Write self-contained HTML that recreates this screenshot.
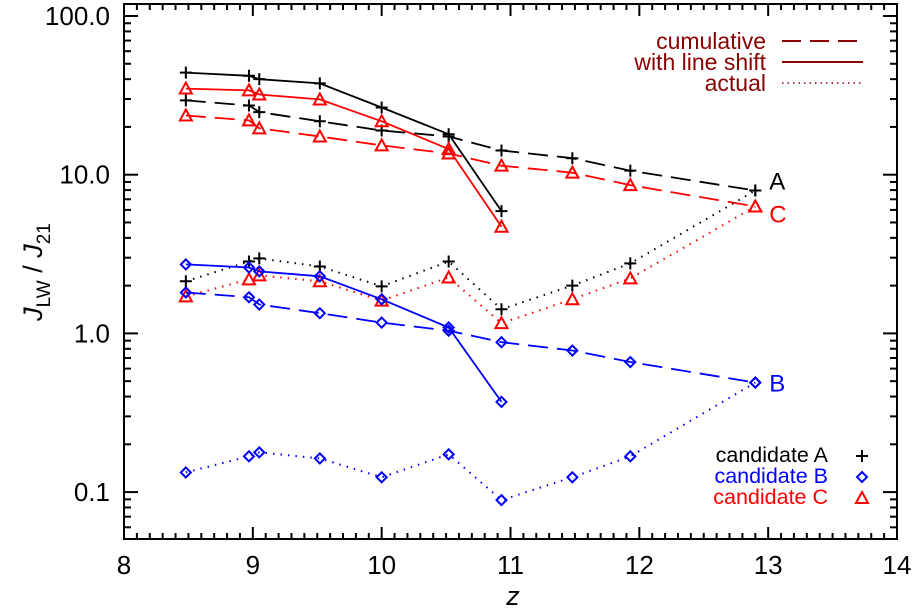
<!DOCTYPE html>
<html><head><meta charset="utf-8"><style>
html,body{margin:0;padding:0;background:#fff;}
svg{display:block;font-family:"Liberation Sans",Arial,sans-serif;}
</style></head><body>
<svg id="chart" width="916" height="610" viewBox="0 0 916 610" xmlns="http://www.w3.org/2000/svg"></svg>
<script>
const zA = [8.48, 8.97, 9.05, 9.52, 10.0, 10.52, 10.93];
const zFull = [8.48, 8.97, 9.05, 9.52, 10.0, 10.52, 10.93, 11.48, 11.93, 12.9];
const aShift = [44, 42, 40, 37.6, 26.5, 18, 5.9];
const aCum = [29.4, 27.3, 24.8, 21.7, 19.0, 17.4, 14.2, 12.7, 10.6, 7.95];
const aAct = [2.13, 2.84, 2.97, 2.64, 1.98, 2.84, 1.42, 2.0, 2.76, 7.95];
const cShift = [34.9, 34, 32, 29.8, 21.7, 14.5, 4.7];
const cCum = [23.6, 22, 19.6, 17.4, 15.3, 13.6, 11.4, 10.3, 8.6, 6.3];
const cAct = [1.71, 2.19, 2.32, 2.13, 1.61, 2.25, 1.16, 1.64, 2.22, 6.3];
const bShift = [2.72, 2.6, 2.46, 2.29, 1.64, 1.09, 0.37];
const bCum = [1.81, 1.69, 1.52, 1.34, 1.17, 1.04, 0.88, 0.78, 0.66, 0.49];
const bAct = [0.133, 0.168, 0.178, 0.163, 0.124, 0.173, 0.089, 0.124, 0.168, 0.49];
const xTicks = [8, 9, 10, 11, 12, 13, 14];
const yTicks = [0.1, 1, 10, 100];
const yTickLabels = ["0.1", "1.0", "10.0", "100.0"];

const NS = "http://www.w3.org/2000/svg";
const svg = document.getElementById("chart");
const L = 124, R = 897, T = 4, B = 539;
const xMin = 8, xMax = 14;
const y100 = 16, dec = 158.7;
function X(z){ return L + (z - xMin) / (xMax - xMin) * (R - L); }
function Y(v){ return y100 + (2 - Math.log10(v)) * dec; }
function mk(tag, attrs, parent){
  const e = document.createElementNS(NS, tag);
  for (const k in attrs) e.setAttribute(k, attrs[k]);
  (parent || svg).appendChild(e);
  return e;
}
const frame = mk("rect", {x:L, y:T, width:R-L, height:B-T, fill:"none", stroke:"#000", "stroke-width":2});


const xt = mk("g", {stroke:"#000", "stroke-width":2});


for (let i = 0; i <= 60; i++){
  const z = xMin + i * 0.1, x = X(z);
  const len = (i % 10 === 0) ? 12 : 6;
  mk("line", {x1:x, y1:B, x2:x, y2:B-len}, xt);
  mk("line", {x1:x, y1:T, x2:x, y2:T+len}, xt);
}
xTicks.forEach(z => {
  const t = mk("text", {x:X(z), y:B+35, "font-size":26, "text-anchor":"middle", fill:"#000"});
  t.textContent = String(z);
  
  
});
const yt = mk("g", {stroke:"#000", "stroke-width":2});


for (let p = -2; p <= 2; p++){
  for (let m = 1; m <= 9; m++){
    const v = m * Math.pow(10, p), y = Y(v);
    if (y < T || y > B) continue;
    const len = m === 1 ? 14 : 7;
    mk("line", {x1:L, y1:y, x2:L+len, y2:y}, yt);
    mk("line", {x1:R, y1:y, x2:R-len, y2:y}, yt);
  }
}
yTicks.forEach((v, i) => {
  const t = mk("text", {x:L-14, y:Y(v)+9, "font-size":26, "text-anchor":"end", fill:"#000"});
  t.textContent = yTickLabels[i];
  
  
});
const xtitle = mk("text", {x:513, y:605, "font-size":27, "font-style":"italic", "text-anchor":"middle"});
xtitle.textContent = "z";


const ytitle = mk("text", {transform:"translate(42,272) rotate(-90)", "font-size":27, "text-anchor":"middle"});


ytitle.innerHTML = '<tspan font-style="italic">J</tspan><tspan font-size="19" dy="8">LW</tspan><tspan dy="-8"> / </tspan><tspan font-style="italic">J</tspan><tspan font-size="19" dy="8">21</tspan>';

const dashes = {shift:"", cum:"20 9", act:"1.5 6"};
function marker(kind, x, y, color, g){
  if (kind === "plus"){
    mk("path", {d:`M${x-6},${y}H${x+6}M${x},${y-6}V${y+6}`, stroke:color, "stroke-width":2, fill:"none"}, g);
  } else if (kind === "diamond"){
    mk("path", {d:`M${x},${y-5}L${x+5},${y}L${x},${y+5}L${x-5},${y}Z`, stroke:color, "stroke-width":2, fill:"none"}, g);
  } else {
    mk("path", {d:`M${x},${y-6}L${x+6},${y+5}L${x-6},${y+5}Z`, stroke:color, "stroke-width":2, fill:"none"}, g);
  }
}
function series(name, zs, vs, color, style, mkind){
  const g = mk("g", {});
  
  
  const pts = zs.map((z, i) => X(z).toFixed(1) + "," + Y(vs[i]).toFixed(1)).join(" ");
  const attrs = {points:pts, fill:"none", stroke:color, "stroke-width":style==="act"?2:1.8};
  if (dashes[style]) attrs["stroke-dasharray"] = dashes[style];
  mk("polyline", attrs, g);
  zs.forEach((z, i) => marker(mkind, X(z), Y(vs[i]), color, g));
}
series("series-a-cumulative", zFull, aCum, "#000", "cum", "plus");
series("series-a-actual", zFull, aAct, "#000", "act", "plus");
series("series-a-line-shift", zA, aShift, "#000", "shift", "plus");
series("series-c-cumulative", zFull, cCum, "#f00", "cum", "tri");
series("series-c-actual", zFull, cAct, "#f00", "act", "tri");
series("series-c-line-shift", zA, cShift, "#f00", "shift", "tri");
series("series-b-cumulative", zFull, bCum, "#00f", "cum", "diamond");
series("series-b-actual", zFull, bAct, "#00f", "act", "diamond");
series("series-b-line-shift", zA, bShift, "#00f", "shift", "diamond");

[["A", "#000", aCum], ["C", "#f00", cCum], ["B", "#00f", bCum]].forEach(([lab, col, arr]) => {
  const off = lab === "A" ? -1 : (lab === "C" ? 16 : 9);
  const t = mk("text", {x:X(zFull[zFull.length-1]) + 14, y:Y(arr[arr.length-1]) + off, "font-size":24, fill:col});
  t.textContent = lab;
  
  
});

const lg = mk("g", {});


[["cumulative", "cum", 49], ["with line shift", "shift", 70], ["actual", "act", 91]].forEach(([lab, st, y]) => {
  const t = mk("text", {x:766, y:y, "font-size":23, "text-anchor":"end", fill:"#8b0000"}, lg);
  t.textContent = lab;
  
  
  const a = {x1:782, y1:y-8, x2:863, y2:y-8, stroke:"#8b0000", "stroke-width":st==="act"?1.6:2};
  if (st === "cum") a["stroke-dasharray"] = "19 9";
  if (st === "act") a["stroke-dasharray"] = "1.5 4";
  mk("line", a, lg);
});
const cg = mk("g", {});


[["candidate A", "#000", "plus", 462], ["candidate B", "#00f", "diamond", 483], ["candidate C", "#f00", "tri", 504]].forEach(([lab, col, mkind, y]) => {
  const t = mk("text", {x:828, y:y, "font-size":21.5, "text-anchor":"end", fill:col}, cg);
  t.textContent = lab;
  
  
  marker(mkind, 862, y - 6, col, cg);
});
</script>
</body></html>
